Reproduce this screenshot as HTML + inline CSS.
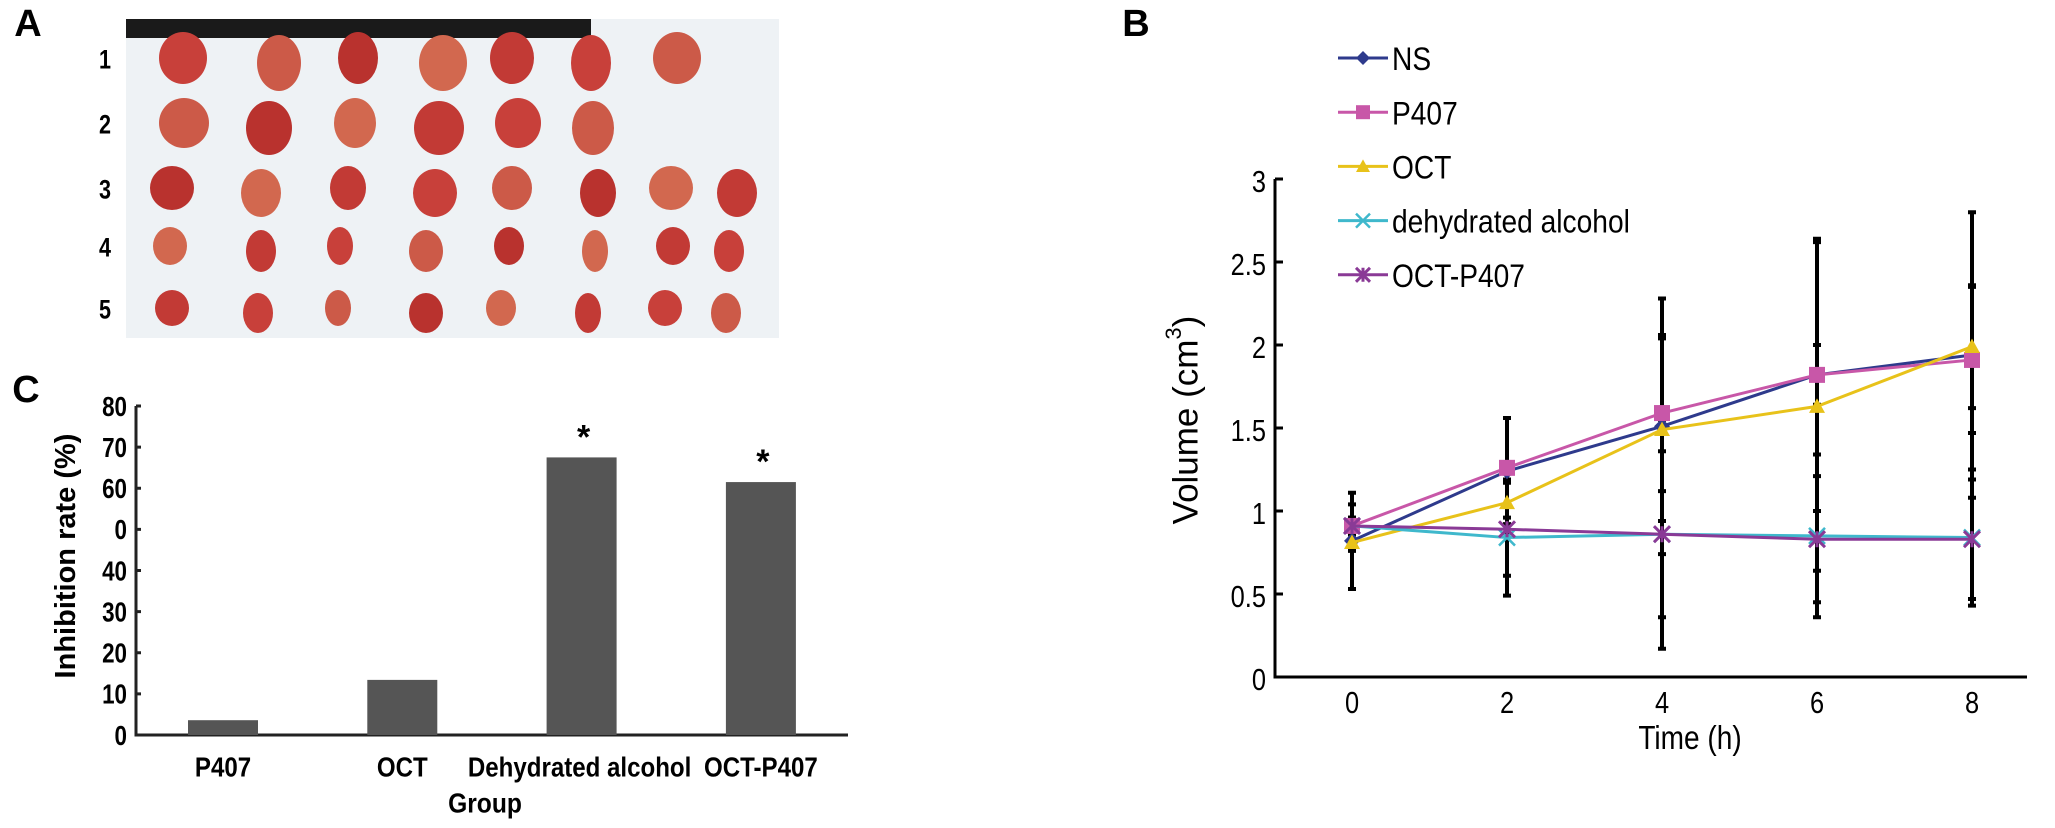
<!DOCTYPE html>
<html><head><meta charset="utf-8"><style>
html,body{margin:0;padding:0;background:#fff;}
svg{display:block;font-family:"Liberation Sans",Arial,sans-serif;}
</style></head><body>
<svg id="fig" width="2055" height="828" viewBox="0 0 2055 828" xmlns="http://www.w3.org/2000/svg">
  <g id="panelA"></g>
  <g id="panelB"></g>
  <g id="panelC"></g>
</svg>
<script>
// ---------- Panel B data ----------
const timeTicks = [0, 2, 4, 6, 8];
const volTicks = [0, 0.5, 1, 1.5, 2, 2.5, 3];
const volTickLabels = ["0", "0.5", "1", "1.5", "2", "2.5", "3"];
const seriesNames = ["NS", "P407", "OCT", "dehydrated alcohol", "OCT-P407"];
const nsVals   = [0.82, 1.24, 1.51, 1.82, 1.94];
const p407Vals = [0.91, 1.26, 1.59, 1.82, 1.91];
const octVals  = [0.81, 1.05, 1.49, 1.63, 1.99];
const dehydVals= [0.91, 0.84, 0.86, 0.85, 0.84];
const octpVals = [0.91, 0.89, 0.86, 0.83, 0.83];
const nsErr    = [0.29, 0.32, 0.77, 0.82, 0.86];
const p407Err  = [0.13, 0.30, 0.47, 0.18, 0.44];
const octErr   = [0.05, 0.13, 0.55, 0.99, 0.37];
const dehydErr = [0.05, 0.35, 0.69, 0.49, 0.41];
const octpErr  = [0.05, 0.28, 0.50, 0.38, 0.36];
// ---------- Panel C data ----------
const groups = ["P407", "OCT", "Dehydrated alcohol", "OCT-P407"];
const inhibition = [3.6, 13.4, 67.5, 61.5];
const significant = [false, false, true, true];
const rateTicks = [0, 10, 20, 30, 40, 50, 60, 70, 80];
const rateTickLabels = ["0", "10", "20", "30", "40", "0", "60", "70", "80"];

const NS = "http://www.w3.org/2000/svg";
function mk(tag, attrs, parent){const e=document.createElementNS(NS,tag);for(const k in attrs)e.setAttribute(k,attrs[k]);parent.appendChild(e);return e;}
function txt(parent,s,x,y,size,opts){opts=opts||{};
  const t=mk('text',{x:0,y:0,'font-size':size,'text-anchor':opts.anchor||'middle','dominant-baseline':'central',fill:'#000','font-weight':opts.bold?'bold':'normal',transform:`translate(${x},${y}) ${opts.rot?'rotate('+opts.rot+')':''} scale(${opts.sx||1},1)`},parent);
  t.textContent=s;return t;}

// ---------- Panel A (photo approximation) ----------
(function(){
  const g=document.getElementById('panelA');
  const lab=txt(g,"A",28,24,38,{bold:true});
  
  
  const bg=mk('rect',{x:126,y:19,width:653,height:319,fill:'#eef2f5'},g);
  
  
  mk('rect',{x:126,y:19,width:465,height:19,fill:'#1a1a1a'},g);
  const rowY=[60,125,190,248,310];
  const rowX=[[183,279,358,443,512,591,677],[184,269,355,439,518,593],[172,261,348,435,512,598,671,737],[170,261,340,426,509,595,673,729],[172,258,338,426,501,588,665,726]];
  const rowR=[[24,26],[25,25],[22,22],[17,19],[17,18]];
  const cols=['#c8403a','#cc5a48','#b9322e','#d2684f','#c23a35'];
  rowY.forEach((y,i)=>{
    const l=txt(g,String(i+1),105,y,27,{bold:true,sx:0.8});
    
    
    rowX[i].forEach((x,j)=>{
      const e=mk('ellipse',{cx:x,cy:y+(j%2?3:-2),rx:rowR[i][0]-(j%3)*2,ry:rowR[i][1]+(j%2)*2,fill:cols[(i+j)%5]},g);
      
      
    });
  });
})();

// ---------- Panel B ----------
(function(){
  const g=document.getElementById('panelB');
  const x0=1275,x1=2027,yTop=179,yBot=677;
  const xs=t=>1352+(t-0)*(1972-1352)/8;
  const ys=v=>yBot-(v/3)*(yBot-yTop);
  const lab=txt(g,"B",1136,24,38,{bold:true});
  
  
  const ax=mk('path',{d:`M${x0},${yTop}V${yBot}H${x1}`,stroke:'#000','stroke-width':3,fill:'none'},g);
  
  
  volTicks.forEach((v,i)=>{
    mk('line',{x1:x0,x2:x0+8,y1:ys(v),y2:ys(v),stroke:'#000','stroke-width':3},g);
    const t=txt(g,volTickLabels[i],1266,ys(v)+3,31,{anchor:'end',sx:0.82});
    
    
  });
  timeTicks.forEach(tk=>{
    const t=txt(g,String(tk),xs(tk),703,31,{sx:0.82});
    
    
  });
  const xt=txt(g,"Time (h)",1690,738,33,{sx:0.85});
  
  
  const yt=mk('text',{x:0,y:0,'font-size':35,'text-anchor':'middle','dominant-baseline':'central',transform:'translate(1186,420) rotate(-90)'},g);
  yt.innerHTML='Volume (cm<tspan baseline-shift="super" font-size="22">3</tspan>)';
  
  

  const series=[
    {vals:nsVals,err:nsErr,color:'#2e3a8c',mark:'diamond'},
    {vals:p407Vals,err:p407Err,color:'#c857a8',mark:'square'},
    {vals:octVals,err:octErr,color:'#e8c21a',mark:'triangle'},
    {vals:dehydVals,err:dehydErr,color:'#3fb8cc',mark:'x'},
    {vals:octpVals,err:octpErr,color:'#8a3a96',mark:'star'}
  ];
  function marker(parent,m,x,y,c,s){
    if(m==='diamond')return mk('path',{d:`M${x},${y-s}L${x+s},${y}L${x},${y+s}L${x-s},${y}Z`,fill:c},parent);
    if(m==='square')return mk('rect',{x:x-s,y:y-s,width:2*s,height:2*s,fill:c},parent);
    if(m==='triangle')return mk('path',{d:`M${x},${y-s}L${x+s},${y+s*0.8}L${x-s},${y+s*0.8}Z`,fill:c},parent);
    if(m==='x')return mk('path',{d:`M${x-s},${y-s}L${x+s},${y+s}M${x+s},${y-s}L${x-s},${y+s}`,stroke:c,'stroke-width':2.5},parent);
    return mk('path',{d:`M${x-s},${y-s}L${x+s},${y+s}M${x+s},${y-s}L${x-s},${y+s}M${x},${y-s}V${y+s}`,stroke:c,'stroke-width':3},parent);
  }
  series.forEach(s=>{
    s.vals.forEach((v,i)=>{
      const x=xs(timeTicks[i]);
      const e=mk('path',{d:`M${x},${ys(v+s.err[i])}V${ys(v-s.err[i])}M${x-4},${ys(v+s.err[i])}H${x+4}M${x-4},${ys(v-s.err[i])}H${x+4}`,stroke:'#000','stroke-width':4,fill:'none'},g);
      
      
    });
  });
  series.forEach((s,k)=>{
    const d=s.vals.map((v,i)=>(i?'L':'M')+xs(timeTicks[i])+','+ys(v)).join('');
    const l=mk('path',{d:d,stroke:s.color,'stroke-width':3,fill:'none'},g);
    
    
    s.vals.forEach((v,i)=>{
      const m=marker(g,s.mark,xs(timeTicks[i]),ys(v),s.color,8);
      
      
    });
    const ly=58+k*54.2;
    const lg=mk('g',{},g);
    
    
    mk('line',{x1:1338,x2:1388,y1:ly,y2:ly,stroke:s.color,'stroke-width':3},lg);
    marker(lg,s.mark,1363,ly,s.color,7);
    txt(lg,seriesNames[k],1392,ly+2,32,{anchor:'start',sx:0.88});
  });
})();

// ---------- Panel C ----------
(function(){
  const g=document.getElementById('panelC');
  const x0=136,x1=848,yBot=735,yTop=406;
  const ys=v=>yBot-(v/80)*(yBot-yTop);
  const xc=i=>223+i*179.3;
  const lab=txt(g,"C",26,390,38,{bold:true});
  
  
  const ax=mk('path',{d:`M${x0},${yTop}V${yBot}H${x1}`,stroke:'#222','stroke-width':3,fill:'none'},g);
  
  
  rateTicks.forEach((v,i)=>{
    mk('line',{x1:x0,x2:x0+5,y1:ys(v),y2:ys(v),stroke:'#222','stroke-width':3},g);
    const t=txt(g,rateTickLabels[i],127,ys(v)+1,28,{anchor:'end',bold:true,sx:0.8});
    
    
  });
  inhibition.forEach((v,i)=>{
    const b=mk('rect',{x:xc(i)-35,y:ys(v),width:70,height:yBot-ys(v),fill:'#555'},g);
    
    
    if(significant[i]){
      const s=txt(g,'*',xc(i)+2,ys(v)-20,34,{bold:true});
      
      
    }
    const l=txt(g,groups[i],xc(i)+(i===2?-2:0),767,28,{bold:true,sx:0.86});
    
    
  });
  const xt=txt(g,"Group",485,803,28,{bold:true,sx:0.88});
  
  
  const yt=txt(g,"Inhibition rate (%)",66,556,29,{bold:true,rot:-90});
  
  
})();
</script>
</body></html>
